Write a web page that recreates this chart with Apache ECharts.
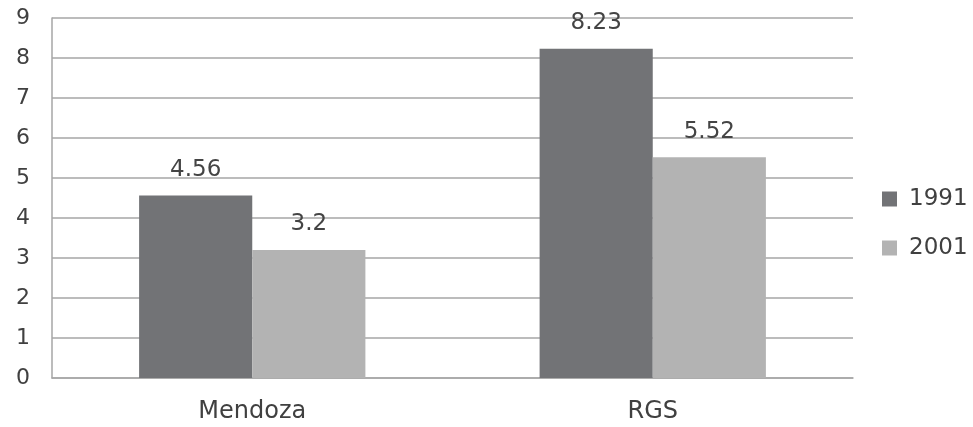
<!DOCTYPE html>
<html><head><meta charset="utf-8">
<script src="https://cdn.jsdelivr.net/npm/echarts@6/dist/echarts.min.js"></script>
<style>html,body{margin:0;padding:0;background:#fff}#c{width:973px;height:427px}</style>
</head><body><div id="c"></div>
<script>
const categories = ['Mendoza', 'RGS'];
const seriesNames = ['1991', '2001'];
const values1991 = [4.56, 8.23];
const values2001 = [3.2, 5.52];
const colors = ['#727376', '#b3b3b3'];
const font = '"DejaVu Sans", Verdana, sans-serif';
const chart = echarts.init(document.getElementById('c'));
const labelStyle = {show: true, position: 'top', distance: 14, color: '#444', fontSize: 23, fontFamily: font};
chart.setOption({
  animation: false,
  grid: {left: 52, right: 120, top: 18, bottom: 49},
  legend: {
    orient: 'vertical', left: 877, top: 182, itemWidth: 15, itemHeight: 15, itemGap: 25,
    icon: 'rect',
    textStyle: {color: '#404040', fontSize: 23, fontFamily: font, lineHeight: 24, padding: [0, 0, 0, 7]},
    data: seriesNames
  },
  xAxis: {
    type: 'category', data: categories,
    axisLine: {lineStyle: {color: '#a6a6a6', width: 1.5}},
    axisTick: {show: false},
    axisLabel: {color: '#404040', fontSize: 24, fontFamily: font, margin: 22}
  },
  yAxis: {
    type: 'value', min: 0, max: 9, interval: 1,
    axisLine: {show: true, lineStyle: {color: '#a6a6a6', width: 1.5}},
    axisTick: {show: false},
    splitLine: {lineStyle: {color: '#a6a6a6', width: 1.5}},
    axisLabel: {color: '#404040', fontSize: 22, fontFamily: font, margin: 22}
  },
  series: [
    {name: seriesNames[0], type: 'bar', data: values1991, itemStyle: {color: colors[0]}, barGap: '0%', barCategoryGap: '43.5%', label: labelStyle},
    {name: seriesNames[1], type: 'bar', data: values2001, itemStyle: {color: colors[1]}, barGap: '0%', barCategoryGap: '43.5%', label: labelStyle}
  ]
});
</script></body></html>
